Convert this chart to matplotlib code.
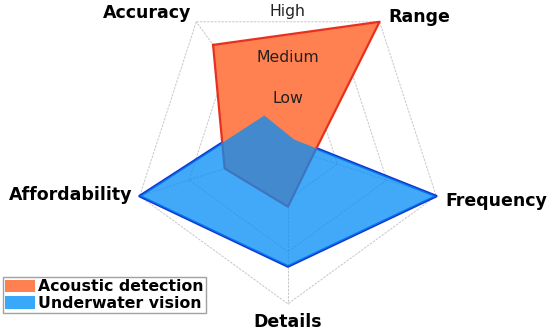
import numpy as np
import matplotlib
matplotlib.use("Agg")
import matplotlib.pyplot as plt
from matplotlib.patches import Patch

categories = ["Accuracy", "Range", "Frequency", "Details", "Affordability"]
acoustic = [2.45, 3.0, 0.5, 1.13, 1.28]
vision = [0.77, 0.2, 3.0, 2.28, 3.0]
levels = [1, 2, 3]
level_labels = ["Low", "Medium", "High"]
series_names = ["Acoustic detection", "Underwater vision"]

fig = plt.figure(figsize=(5.5, 3.31), dpi=100)
ax = fig.add_axes([0.24, 0.0816, 0.567, 0.943], projection="polar")
ax.set_theta_offset(np.deg2rad(126))
ax.set_theta_direction(-1)
ax.set_ylim(0, 3)
ax.set_axis_off()

n = len(categories)
angles = np.linspace(0, 2 * np.pi, n, endpoint=False)
ang_c = np.concatenate([angles, angles[:1]])

grid_kw = dict(color="#c8c8c8", lw=0.7, ls=(0, (2.5, 1.2)), clip_on=False, zorder=0)
for lv in levels:
    ax.plot(ang_c, [lv] * (n + 1), **grid_kw)
for a in angles:
    ax.plot([a, a], [0, levels[-1]], **grid_kw)

def closed(v):
    return np.concatenate([v, v[:1]])

# blue outline underneath
ax.plot(ang_c, closed(vision), color="#1236d0", lw=2.0, clip_on=False, zorder=1)
# orange fill (opaque) and edge
ax.fill(ang_c, closed(acoustic), color="#ff8050", lw=0, zorder=2, clip_on=False)
ax.plot(ang_c, closed(acoustic), color="#e8301e", lw=1.6, clip_on=False, zorder=3)
# blue translucent fill on top
ax.fill(ang_c, closed(vision), color="#038df8", alpha=0.75, lw=0, zorder=4, clip_on=False)

# category labels
lab_fmt = {
    "Accuracy": dict(ha="right", va="baseline", off=(-5, 4)),
    "Range": dict(ha="left", va="baseline", off=(9, 0)),
    "Frequency": dict(ha="left", va="baseline", off=(9, -10)),
    "Details": dict(ha="center", va="baseline", off=(0, -23)),
    "Affordability": dict(ha="right", va="baseline", off=(-7, -4)),
}
for a, c in zip(angles, categories):
    f = lab_fmt[c]
    ax.annotate(c, xy=(a, levels[-1]), xytext=f["off"], textcoords="offset pixels",
                ha=f["ha"], va=f["va"], fontsize=12.5, fontweight="bold",
                annotation_clip=False, zorder=6)

# level labels along the vertical through the top edge midpoint
mid = np.deg2rad(36)
lvl_off = {"Low": 3, "Medium": 2, "High": 6}
for lv, lab in zip(levels, level_labels):
    ax.annotate(lab, xy=(mid, lv * np.cos(np.pi / 5)), xytext=(0, lvl_off[lab]),
                textcoords="offset pixels", ha="center", va="baseline",
                fontsize=11.3, color="#222222", annotation_clip=False, zorder=6)

handles = [Patch(facecolor="#ff8050", edgecolor="none"),
           Patch(facecolor="#3aa8f9", edgecolor="none")]
leg = fig.legend(handles, series_names, loc="lower left",
                 bbox_to_anchor=(0.0055, 0.054), borderaxespad=0,
                 prop=dict(size=11.3, weight="bold"), frameon=True, fancybox=False,
                 handlelength=1.9, handleheight=0.85, handletextpad=0.2,
                 labelspacing=0.1, borderpad=0.15)
leg.get_frame().set_edgecolor("#8a8a8a")
leg.get_frame().set_linewidth(1.0)

fig.savefig("out.png", dpi=100)
